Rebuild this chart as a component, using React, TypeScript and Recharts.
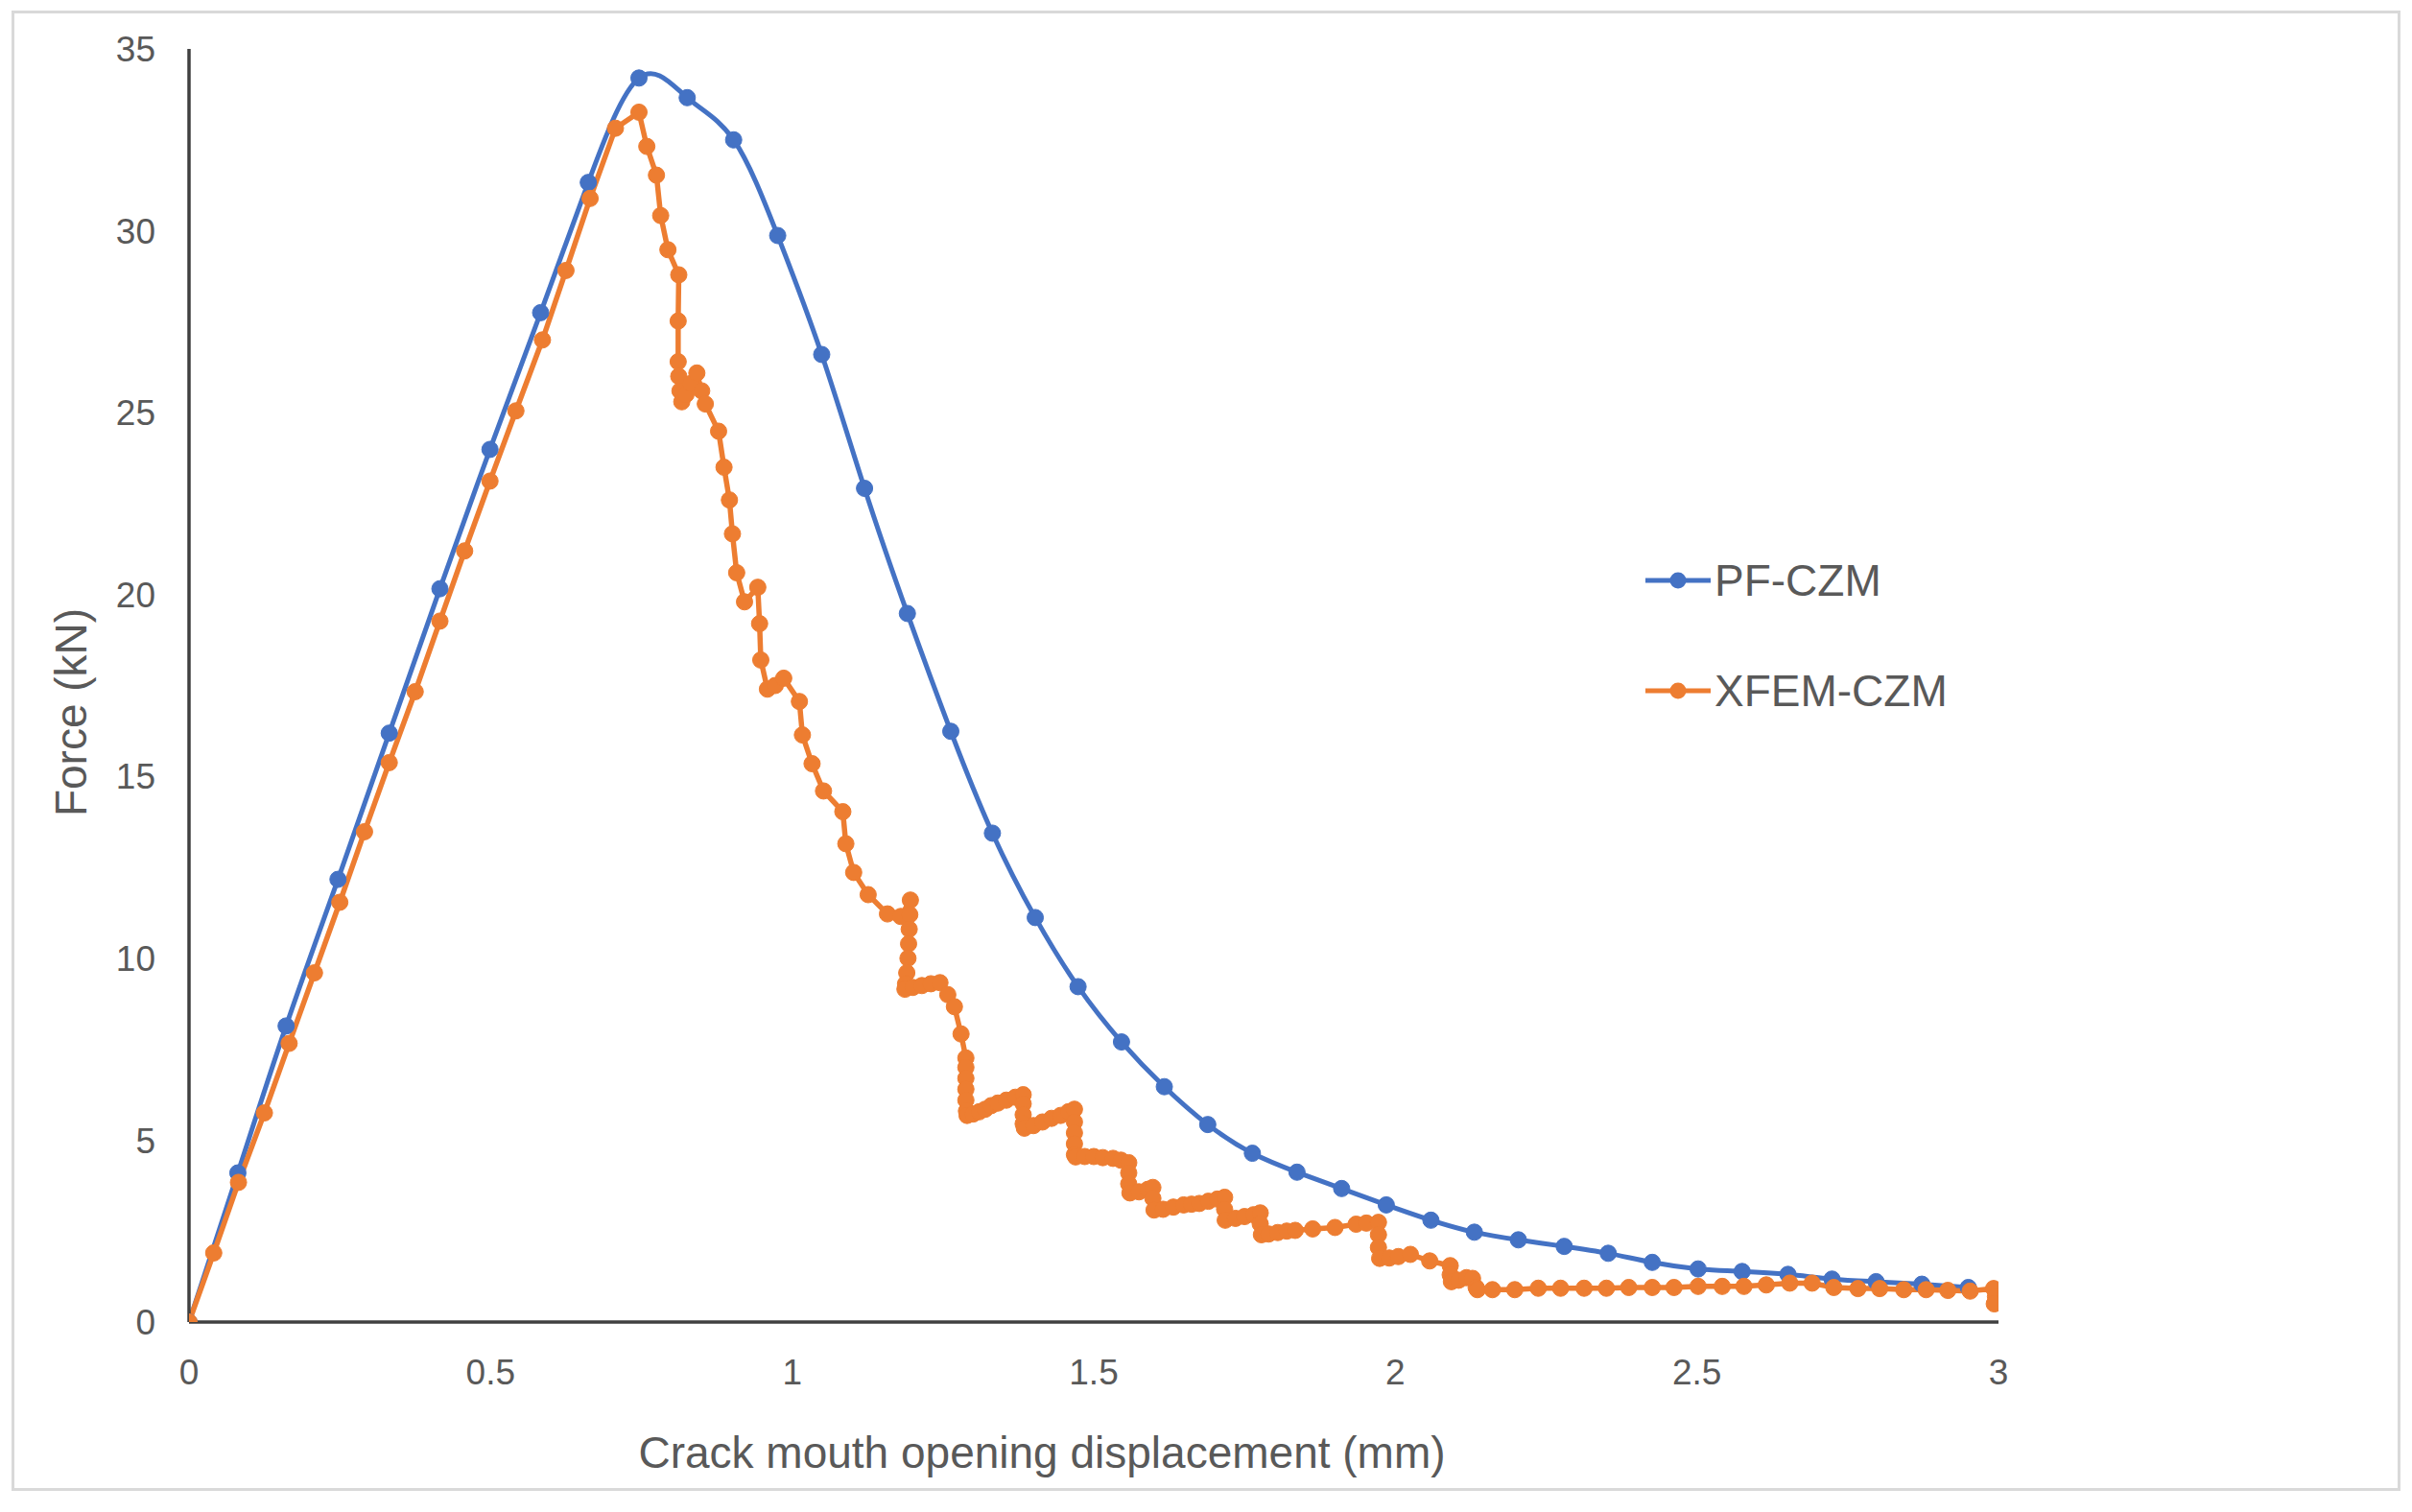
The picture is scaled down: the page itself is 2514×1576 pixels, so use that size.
import React from 'react';
import { LineChart, Line, XAxis, YAxis, Legend, Label } from 'recharts';

// PF-CZM
const pfX = [
  0, 0.081, 0.161, 0.247, 0.332, 0.416, 0.499, 0.583, 0.662, 0.746,
  0.826, 0.903, 0.976, 1.049, 1.12, 1.191, 1.263, 1.332, 1.403, 1.474,
  1.546, 1.617, 1.689, 1.763, 1.837, 1.911, 1.985, 2.059, 2.131, 2.204,
  2.28, 2.353, 2.426, 2.502, 2.575, 2.651, 2.724, 2.797, 2.873, 2.95,
];
const pfY = [
  0, 4.1, 8.14, 12.17, 16.19, 20.16, 23.99, 27.75, 31.33, 34.2,
  33.66, 32.5, 29.87, 26.6, 22.92, 19.48, 16.24, 13.44, 11.12, 9.22,
  7.7, 6.47, 5.43, 4.64, 4.12, 3.67, 3.22, 2.8, 2.47, 2.26,
  2.08, 1.89, 1.64, 1.46, 1.39, 1.31, 1.18, 1.11, 1.04, 0.95,
];

// XFEM-CZM
const xfemX = [
  0, 0.041, 0.082, 0.125, 0.166, 0.208, 0.25, 0.291, 0.332, 0.375,
  0.416, 0.457, 0.499, 0.542, 0.586, 0.625, 0.665, 0.707, 0.746,
  0.759, 0.775, 0.782, 0.794, 0.812, 0.811, 0.811, 0.812, 0.814, 0.817,
  0.824, 0.832, 0.842, 0.85, 0.856, 0.878, 0.887, 0.896, 0.901, 0.908,
  0.921, 0.943, 0.946, 0.948, 0.959, 0.972, 0.986, 1.012, 1.017, 1.033,
  1.052, 1.084, 1.089, 1.102, 1.126, 1.158, 1.18, 1.196,
  1.195, 1.194, 1.193, 1.192, 1.19, 1.188, 1.187,
  1.2, 1.215, 1.23, 1.245, 1.258, 1.269, 1.28, 1.288,
  1.288, 1.288, 1.288, 1.288, 1.289, 1.29,
  1.3, 1.31, 1.32, 1.33, 1.341, 1.355, 1.37, 1.383,
  1.383, 1.383, 1.383, 1.385,
  1.4, 1.415, 1.43, 1.445, 1.458, 1.468,
  1.468, 1.468, 1.468, 1.468, 1.47,
  1.485, 1.5, 1.515, 1.532, 1.545, 1.558,
  1.558, 1.558, 1.56,
  1.575, 1.59, 1.598, 1.598, 1.6,
  1.615, 1.632, 1.649, 1.662, 1.675, 1.69, 1.705, 1.717,
  1.717, 1.718,
  1.735, 1.75, 1.765, 1.776, 1.776, 1.778,
  1.79, 1.805, 1.82, 1.834, 1.863, 1.9, 1.935, 1.952, 1.972,
  1.972, 1.972, 1.974,
  1.99, 2.005, 2.025, 2.057, 2.091, 2.091, 2.093,
  2.105, 2.118, 2.128, 2.134, 2.136,
  2.161, 2.198, 2.237, 2.274, 2.313, 2.35, 2.387, 2.426, 2.462, 2.502,
  2.542, 2.578, 2.615, 2.654, 2.691, 2.727, 2.767, 2.803, 2.843, 2.88,
  2.916, 2.953, 2.992, 2.995, 2.993,
];
const xfemY = [
  0, 1.9, 3.84, 5.75, 7.66, 9.6, 11.54, 13.48, 15.38, 17.33,
  19.27, 21.2, 23.12, 25.05, 27.0, 28.91, 30.89, 32.82, 33.26,
  32.32, 31.53, 30.42, 29.48, 28.79, 27.52, 26.4, 26.0, 25.6, 25.3,
  25.5, 25.8, 26.09, 25.6, 25.24, 24.49, 23.5, 22.6, 21.67, 20.6,
  19.8, 20.2, 19.2, 18.2, 17.4, 17.5, 17.7, 17.06, 16.14, 15.35,
  14.6, 14.03, 13.15, 12.36, 11.75, 11.22, 11.15, 11.6,
  11.2, 10.8, 10.4, 10.0, 9.6, 9.3, 9.15,
  9.2, 9.25, 9.3, 9.33, 9.0, 8.67, 7.92, 7.26,
  7.0, 6.7, 6.4, 6.1, 5.8, 5.68,
  5.72, 5.78, 5.85, 5.95, 6.02, 6.1, 6.18, 6.25,
  6.0, 5.7, 5.45, 5.33,
  5.4, 5.5, 5.6, 5.68, 5.78, 5.85,
  5.5, 5.2, 4.9, 4.6, 4.54,
  4.55, 4.55, 4.52, 4.5, 4.45, 4.38,
  4.1, 3.8, 3.55,
  3.58, 3.65, 3.7, 3.4, 3.08,
  3.1, 3.16, 3.22, 3.24, 3.26, 3.32, 3.38, 3.43,
  3.1, 2.8,
  2.85, 2.9, 2.95, 3.0, 2.7, 2.4,
  2.42, 2.46, 2.5, 2.52, 2.56, 2.6, 2.69, 2.72, 2.74,
  2.4, 2.05, 1.75,
  1.76, 1.8, 1.86, 1.68, 1.55, 1.3, 1.11,
  1.15, 1.22, 1.2, 0.95, 0.89,
  0.89, 0.89, 0.93, 0.93, 0.93, 0.93, 0.95, 0.95, 0.95, 0.98,
  0.98, 0.98, 1.02, 1.07, 1.07, 0.95, 0.92, 0.92, 0.89, 0.89,
  0.87, 0.85, 0.92, 0.7, 0.5,
];

const xTicks = [0, 0.5, 1, 1.5, 2, 2.5, 3];
const yTicks = [0, 5, 10, 15, 20, 25, 30, 35];

const seriesNames = ['PF-CZM', 'XFEM-CZM'];
const seriesColors = ['#4472C4', '#ED7D31'];

const pfData = pfX.map((x, i) => ({ x, y: pfY[i] }));
const xfemData = xfemX.map((x, i) => ({ x, y: xfemY[i] }));

const FONT = '"Liberation Sans", Arial, sans-serif';
const TEXT = '#595959';

const renderLegend = () => (
  <div style={{ fontFamily: FONT, color: TEXT, fontSize: 46 }}>
    {seriesNames.map((name, i) => (
      <div key={name} style={{ display: 'flex', alignItems: 'center', height: 115 }}>
        <svg width={68} height={22}>
          <line x1={0} y1={11} x2={68} y2={11} stroke={seriesColors[i]} strokeWidth={5} />
          <circle cx={34} cy={11} r={8.5} fill={seriesColors[i]} />
        </svg>
        <span style={{ marginLeft: 4, lineHeight: 1 }}>{name}</span>
      </div>
    ))}
  </div>
);

const App: React.FC = () => {
  return (
    <div style={{ position: 'absolute', left: 0, top: 0, width: 2514, height: 1576, background: '#fff' }}>
      <div
        style={{
          position: 'absolute',
          left: 12,
          top: 11,
          width: 2490,
          height: 1543,
          border: '3px solid #d9d9d9',
          boxSizing: 'border-box',
        }}
      />
      <LineChart
        width={2514}
        height={1576}
        margin={{ top: 51, right: 431, left: 0, bottom: 0 }}
        style={{ position: 'absolute', left: 0, top: 0 }}
      >
        <XAxis
          dataKey="x"
          type="number"
          domain={[0, 3]}
          ticks={xTicks}
          allowDataOverflow
          height={198}
          tickLine={false}
          tickSize={0}
          tickMargin={39}
          axisLine={{ stroke: '#404040', strokeWidth: 3.5 }}
          tick={{ fill: TEXT, fontSize: 37, fontFamily: FONT }}
        >
          <Label
            content={({ viewBox }: any) => (
              <text
                x={viewBox.x + viewBox.width / 2 - 54}
                y={viewBox.y + 152}
                textAnchor="middle"
                fill={TEXT}
                fontSize={46}
                fontFamily={FONT}
              >
                Crack mouth opening displacement (mm)
              </text>
            )}
          />
        </XAxis>
        <YAxis
          dataKey="y"
          type="number"
          domain={[0, 35]}
          ticks={yTicks}
          allowDataOverflow
          width={197}
          tickLine={false}
          tickSize={0}
          tickMargin={35}
          axisLine={{ stroke: '#404040', strokeWidth: 3.5 }}
          tick={{ fill: TEXT, fontSize: 37, fontFamily: FONT }}
        >
          <Label
            content={({ viewBox }: any) => {
              const cx = 74;
              const cy = viewBox.y + viewBox.height / 2 + 28;
              return (
                <text
                  x={cx}
                  y={cy}
                  transform={`rotate(-90, ${cx}, ${cy})`}
                  textAnchor="middle"
                  dominantBaseline="central"
                  fill={TEXT}
                  fontSize={46}
                  fontFamily={FONT}
                >
                  Force (kN)
                </text>
              );
            }}
          />
        </YAxis>
        <Legend
          layout="horizontal"
          verticalAlign="middle"
          align="center"
          content={renderLegend}
          wrapperStyle={{ left: 1715, top: 547, width: 600 }}
        />
        <Line
          data={pfData}
          dataKey="y"
          name={seriesNames[0]}
          type="natural"
          stroke={seriesColors[0]}
          strokeWidth={5}
          dot={{ r: 8.5, fill: seriesColors[0], stroke: seriesColors[0], strokeWidth: 1 }}
          activeDot={false}
          isAnimationActive={false}
        />
        <Line
          data={xfemData}
          dataKey="y"
          name={seriesNames[1]}
          type="linear"
          stroke={seriesColors[1]}
          strokeWidth={5.5}
          dot={{ r: 8.5, fill: seriesColors[1], stroke: seriesColors[1], strokeWidth: 1 }}
          activeDot={false}
          isAnimationActive={false}
        />
      </LineChart>
    </div>
  );
};

export default App;
